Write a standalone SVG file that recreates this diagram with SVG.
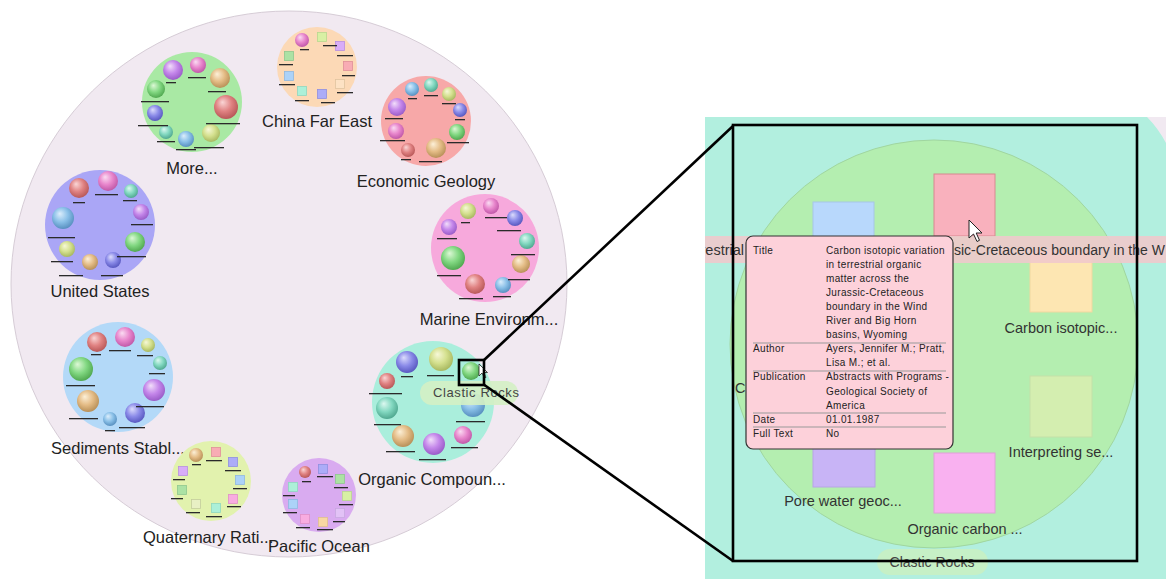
<svg xmlns="http://www.w3.org/2000/svg" width="1169" height="579" viewBox="0 0 1169 579">
<style>
text{font-family:"Liberation Sans",Arial,sans-serif}
.lbl{font-size:16.5px;fill:#222;text-anchor:middle}
.pl{font-size:14.5px;fill:#333;text-anchor:middle}
.tt{font-size:10px;fill:#222;letter-spacing:0.35px}
.d{fill:#2a2a2a;height:1.3px}
.sq{stroke-width:0.8}
.sep{stroke:#999;stroke-width:1}
.con{stroke:#000;stroke-width:2.6;fill:none}
</style>
<defs>
<radialGradient id="gP" cx="0.45" cy="0.4" r="0.6" fx="0.35" fy="0.3"><stop offset="0" stop-color="#f2defa"/><stop offset="0.55" stop-color="#c486ea"/><stop offset="1" stop-color="#9a5cc8"/></radialGradient>
<radialGradient id="gK" cx="0.45" cy="0.4" r="0.6" fx="0.35" fy="0.3"><stop offset="0" stop-color="#fadcf2"/><stop offset="0.55" stop-color="#e886cc"/><stop offset="1" stop-color="#c058a8"/></radialGradient>
<radialGradient id="gT" cx="0.45" cy="0.4" r="0.6" fx="0.35" fy="0.3"><stop offset="0" stop-color="#fcf0d8"/><stop offset="0.55" stop-color="#e4bc86"/><stop offset="1" stop-color="#b89058"/></radialGradient>
<radialGradient id="gR" cx="0.45" cy="0.4" r="0.6" fx="0.35" fy="0.3"><stop offset="0" stop-color="#fad6d6"/><stop offset="0.55" stop-color="#e08282"/><stop offset="1" stop-color="#b85858"/></radialGradient>
<radialGradient id="gG" cx="0.45" cy="0.4" r="0.6" fx="0.35" fy="0.3"><stop offset="0" stop-color="#ddf8d6"/><stop offset="0.55" stop-color="#82d882"/><stop offset="1" stop-color="#50a850"/></radialGradient>
<radialGradient id="gL" cx="0.45" cy="0.4" r="0.6" fx="0.35" fy="0.3"><stop offset="0" stop-color="#f6f8d8"/><stop offset="0.55" stop-color="#d4e08e"/><stop offset="1" stop-color="#a8b860"/></radialGradient>
<radialGradient id="gC" cx="0.45" cy="0.4" r="0.6" fx="0.35" fy="0.3"><stop offset="0" stop-color="#dcf8f0"/><stop offset="0.55" stop-color="#82d8c0"/><stop offset="1" stop-color="#50a890"/></radialGradient>
<radialGradient id="gB" cx="0.45" cy="0.4" r="0.6" fx="0.35" fy="0.3"><stop offset="0" stop-color="#dceefc"/><stop offset="0.55" stop-color="#8ac0e8"/><stop offset="1" stop-color="#5890c0"/></radialGradient>
<radialGradient id="gI" cx="0.45" cy="0.4" r="0.6" fx="0.35" fy="0.3"><stop offset="0" stop-color="#dcdcfc"/><stop offset="0.55" stop-color="#8a8ae8"/><stop offset="1" stop-color="#5858c0"/></radialGradient>
<clipPath id="panel"><rect x="705" y="117" width="461" height="462"/></clipPath>
</defs>
<rect width="1169" height="579" fill="#fff"/>

<g id="root">
<ellipse cx="289" cy="284" rx="278" ry="273" fill="#f1e9f1" stroke="#d6ccd6" stroke-width="1"/>
</g>

<g id="more">
<circle cx="192" cy="102" r="50" fill="#a9e9a4"/>
<circle cx="173" cy="70" r="10" fill="url(#gP)"/><circle cx="198" cy="65" r="8" fill="url(#gK)"/><circle cx="220" cy="78" r="10" fill="url(#gT)"/>
<circle cx="156" cy="89" r="9" fill="url(#gG)"/><circle cx="226" cy="107" r="12" fill="url(#gR)"/><circle cx="155" cy="113" r="8" fill="url(#gI)"/>
<circle cx="211" cy="133" r="9" fill="url(#gL)"/><circle cx="166" cy="132" r="7" fill="url(#gC)"/><circle cx="186" cy="139" r="8" fill="url(#gB)"/>
<rect class="d" x="166" y="82" width="10" height="1.6"/><rect class="d" x="188" y="77" width="18" height="1.6"/><rect class="d" x="208" y="91" width="18" height="1.6"/>
<rect class="d" x="141" y="101" width="28" height="1.6"/><rect class="d" x="206" y="123" width="34" height="2.2"/><rect class="d" x="138" y="125" width="30" height="1.6"/>
<rect class="d" x="194" y="147" width="30" height="1.6"/><rect class="d" x="157" y="141" width="18" height="1.2"/><rect class="d" x="176" y="149" width="20" height="1.2"/>
<text class="lbl" x="192" y="174">More...</text>
</g>

<g id="china">
<circle cx="317" cy="67" r="40" fill="#fcd9b6"/>
<circle cx="302" cy="40" r="7" fill="url(#gK)"/>
<rect class="sq" x="317.5" y="32.5" width="9" height="9" fill="#d8f0a4" stroke="#b8d890"/>
<rect class="sq" x="335.5" y="41.5" width="9" height="9" fill="#d8acf8" stroke="#b890e0"/>
<rect class="sq" x="343.5" y="61.5" width="9" height="9" fill="#f8acb4" stroke="#e09098"/>
<rect class="sq" x="335.5" y="79.5" width="9" height="9" fill="#fde2c4" stroke="#e0c4a0"/>
<rect class="sq" x="317.5" y="89.5" width="9" height="9" fill="#acacf8" stroke="#9090e0"/>
<rect class="sq" x="297.5" y="86.5" width="9" height="9" fill="#acf0d8" stroke="#90d8c0"/>
<rect class="sq" x="284.5" y="71.5" width="9" height="9" fill="#acd2f8" stroke="#90b8e0"/>
<rect class="sq" x="284.5" y="51.5" width="9" height="9" fill="#ace2a4" stroke="#90c890"/>
<rect class="d" x="300" y="49" width="9" height="1.2"/><rect class="d" x="323" y="45" width="14" height="1.2"/><rect class="d" x="337" y="55" width="16" height="1.2"/>
<rect class="d" x="342" y="75" width="13" height="1.2"/><rect class="d" x="337" y="92" width="16" height="1.2"/><rect class="d" x="321" y="102" width="14" height="1.2"/>
<rect class="d" x="295" y="100" width="14" height="1.2"/><rect class="d" x="279" y="84" width="16" height="1.2"/><rect class="d" x="279" y="64" width="14" height="1.2"/>
<text class="lbl" x="317" y="127">China Far East</text>
</g>

<g id="economic">
<circle cx="426" cy="121" r="45" fill="#f7a8a8"/>
<circle cx="412" cy="89" r="7" fill="url(#gB)"/><circle cx="431" cy="85" r="7" fill="url(#gC)"/><circle cx="449" cy="94" r="7" fill="url(#gL)"/>
<circle cx="460" cy="110" r="7" fill="url(#gI)"/><circle cx="397" cy="107" r="9" fill="url(#gP)"/><circle cx="457" cy="132" r="8" fill="url(#gG)"/>
<circle cx="396" cy="131" r="8" fill="url(#gK)"/><circle cx="436" cy="148" r="10" fill="url(#gT)"/><circle cx="408" cy="150" r="7" fill="url(#gR)"/>
<rect class="d" x="408" y="98" width="9" height="1.4"/><rect class="d" x="424" y="95" width="14" height="1.6"/><rect class="d" x="442" y="103" width="14" height="1.2"/>
<rect class="d" x="455" y="119" width="10" height="1.6"/><rect class="d" x="385" y="118" width="18" height="1.8"/><rect class="d" x="447" y="142" width="22" height="1.8"/>
<rect class="d" x="380" y="140" width="25" height="1.8"/><rect class="d" x="419" y="161" width="23" height="1.6"/><rect class="d" x="401" y="159" width="10" height="1.2"/>
<text class="lbl" x="426" y="187">Economic Geology</text>
</g>

<g id="us">
<circle cx="100" cy="225" r="55" fill="#aaa6f6"/>
<circle cx="79" cy="188" r="10" fill="url(#gR)"/><circle cx="108" cy="181" r="10" fill="url(#gK)"/><circle cx="131" cy="191" r="7" fill="url(#gC)"/>
<circle cx="141" cy="212" r="8" fill="url(#gP)"/><circle cx="63" cy="218" r="11" fill="url(#gB)"/><circle cx="135" cy="242" r="10" fill="url(#gG)"/>
<circle cx="67" cy="249" r="8" fill="url(#gL)"/><circle cx="90" cy="262" r="8" fill="url(#gT)"/><circle cx="113" cy="260" r="8" fill="url(#gI)"/>
<rect class="d" x="73" y="202" width="12" height="1.8"/><rect class="d" x="95" y="194" width="23" height="1.4"/><rect class="d" x="123" y="200" width="14" height="1.2"/>
<rect class="d" x="131" y="224" width="22" height="1.6"/><rect class="d" x="48" y="237" width="27" height="2"/><rect class="d" x="117" y="256" width="29" height="1.8"/>
<rect class="d" x="51" y="261" width="22" height="1.4"/><rect class="d" x="59" y="275" width="24" height="1.4"/><rect class="d" x="101" y="275" width="22" height="1.4"/>
<text class="lbl" x="100" y="297">United States</text>
</g>

<g id="marine">
<circle cx="485" cy="248" r="54" fill="#f7a9dc"/>
<circle cx="468" cy="211" r="8" fill="url(#gL)"/><circle cx="491" cy="206" r="8" fill="url(#gK)"/><circle cx="515" cy="218" r="8" fill="url(#gI)"/>
<circle cx="449" cy="227" r="8" fill="url(#gP)"/><circle cx="527" cy="241" r="8" fill="url(#gC)"/><circle cx="453" cy="258" r="12" fill="url(#gG)"/>
<circle cx="521" cy="264" r="9" fill="url(#gT)"/><circle cx="475" cy="284" r="10" fill="url(#gR)"/><circle cx="503" cy="285" r="8" fill="url(#gB)"/>
<rect class="d" x="461" y="222" width="9" height="1.4"/><rect class="d" x="485" y="217" width="22" height="1.4"/><rect class="d" x="497" y="230" width="24" height="1.4"/>
<rect class="d" x="437" y="238" width="20" height="1.8"/><rect class="d" x="511" y="254" width="24" height="1.4"/><rect class="d" x="437" y="275" width="24" height="1.8"/>
<rect class="d" x="508" y="279" width="22" height="1.4"/><rect class="d" x="459" y="298" width="24" height="1.6"/><rect class="d" x="493" y="296" width="18" height="1.4"/>
<text class="lbl" x="489" y="325">Marine Environm...</text>
</g>

<g id="sediments">
<circle cx="118" cy="377" r="55" fill="#b3d9f8"/>
<circle cx="97" cy="342" r="10" fill="url(#gR)"/><circle cx="125" cy="337" r="10" fill="url(#gK)"/><circle cx="148" cy="345" r="7" fill="url(#gL)"/>
<circle cx="160" cy="363" r="7" fill="url(#gC)"/><circle cx="81" cy="369" r="12" fill="url(#gG)"/><circle cx="154" cy="390" r="11" fill="url(#gP)"/>
<circle cx="88" cy="401" r="11" fill="url(#gT)"/><circle cx="135" cy="413" r="10" fill="url(#gI)"/><circle cx="110" cy="419" r="7" fill="url(#gB)"/>
<rect class="d" x="91" y="354" width="10" height="1.6"/><rect class="d" x="109" y="350" width="22" height="1.6"/><rect class="d" x="137" y="355" width="16" height="1.2"/>
<rect class="d" x="149" y="373" width="16" height="1.2"/><rect class="d" x="66" y="385" width="29" height="2"/><rect class="d" x="136" y="406" width="28" height="1.8"/>
<rect class="d" x="69" y="418" width="29" height="2"/><rect class="d" x="119" y="427" width="26" height="1.4"/><rect class="d" x="105" y="430" width="10" height="1.2"/>
<text class="lbl" x="118" y="454">Sediments Stabl...</text>
</g>

<g id="organic">
<circle cx="433" cy="402" r="61" fill="#aaeedc"/>
<circle cx="407" cy="362" r="11" fill="url(#gI)"/><circle cx="441" cy="359" r="12" fill="url(#gL)"/><circle cx="471" cy="371" r="9" fill="url(#gG)"/>
<circle cx="387" cy="381" r="8" fill="url(#gR)"/><circle cx="387" cy="408" r="11" fill="url(#gC)"/><circle cx="473" cy="405" r="12" fill="url(#gB)"/>
<circle cx="403" cy="436" r="11" fill="url(#gT)"/><circle cx="434" cy="444" r="11" fill="url(#gP)"/><circle cx="463" cy="435" r="9" fill="url(#gK)"/>
<rect class="d" x="401" y="376" width="12" height="1.6"/><rect class="d" x="427" y="375" width="27" height="1.8"/><rect class="d" x="369" y="393" width="33" height="1.4"/>
<rect class="d" x="374" y="424" width="27" height="1.8"/><rect class="d" x="456" y="421" width="29" height="1.8"/><rect class="d" x="386" y="451" width="29" height="2"/>
<rect class="d" x="419" y="459" width="27" height="1.6"/><rect class="d" x="451" y="447" width="27" height="1.6"/>
<rect x="420" y="381" width="98" height="24" rx="12" fill="#d4efc4" fill-opacity="0.9"/>
<text x="433" y="397" style="font-size:13px;fill:#444;letter-spacing:0.6px">Clastic Rocks</text>
<text class="lbl" x="432" y="485">Organic Compoun...</text>
</g>

<g id="quaternary">
<circle cx="211" cy="481" r="40" fill="#e2f2ae"/>
<circle cx="196" cy="455" r="7" fill="url(#gT)"/>
<rect class="sq" x="211.5" y="447.5" width="9" height="9" fill="#f8acb4" stroke="#e09098"/>
<rect class="sq" x="228.5" y="457.5" width="9" height="9" fill="#acacf8" stroke="#9090e0"/>
<rect class="sq" x="235.5" y="475.5" width="9" height="9" fill="#acd2f8" stroke="#90b8e0"/>
<rect class="sq" x="228.5" y="494.5" width="9" height="9" fill="#f8ace0" stroke="#e090c8"/>
<rect class="sq" x="211.5" y="503.5" width="9" height="9" fill="#acf0d8" stroke="#90d8c0"/>
<rect class="sq" x="191.5" y="499.5" width="9" height="9" fill="#e8f0c4" stroke="#c4cc9c"/>
<rect class="sq" x="177.5" y="485.5" width="9" height="9" fill="#ace2a4" stroke="#90c890"/>
<rect class="sq" x="178.5" y="466.5" width="9" height="9" fill="#d8acf8" stroke="#b890e0"/>
<rect class="d" x="192" y="464" width="9" height="1.2"/><rect class="d" x="206" y="460" width="16" height="1.2"/><rect class="d" x="225" y="470" width="16" height="1.2"/>
<rect class="d" x="233" y="488" width="14" height="1.2"/><rect class="d" x="227" y="506" width="14" height="1.2"/><rect class="d" x="206" y="516" width="16" height="1.2"/>
<rect class="d" x="186" y="512" width="14" height="1.2"/><rect class="d" x="171" y="498" width="12" height="1.2"/><rect class="d" x="173" y="479" width="12" height="1.2"/>
<text class="lbl" x="143" y="543" style="text-anchor:start">Quaternary Rati...</text>
</g>

<g id="pacific">
<circle cx="319" cy="495" r="37" fill="#d9abf0"/>
<circle cx="305" cy="472" r="6" fill="url(#gR)"/>
<rect class="sq" x="318.5" y="464.5" width="9" height="9" fill="#acacf8" stroke="#9090e0"/>
<rect class="sq" x="335.5" y="474.5" width="9" height="9" fill="#ace2a4" stroke="#90c890"/>
<rect class="sq" x="342.5" y="491.5" width="9" height="9" fill="#d8f0a4" stroke="#b8d890"/>
<rect class="sq" x="335.5" y="508.5" width="9" height="9" fill="#e2c2f6" stroke="#c8a8e0"/>
<rect class="sq" x="318.5" y="517.5" width="9" height="9" fill="#f8d8a4" stroke="#e0c090"/>
<rect class="sq" x="300.5" y="514.5" width="9" height="9" fill="#f8ace0" stroke="#e090c8"/>
<rect class="sq" x="288.5" y="499.5" width="9" height="9" fill="#acd2f8" stroke="#90b8e0"/>
<rect class="sq" x="288.5" y="482.5" width="9" height="9" fill="#acf0d8" stroke="#90d8c0"/>
<rect class="d" x="302" y="481" width="9" height="1.2"/><rect class="d" x="317" y="476" width="16" height="1.2"/><rect class="d" x="334" y="487" width="14" height="1.2"/>
<rect class="d" x="339" y="504" width="14" height="1.2"/><rect class="d" x="333" y="521" width="12" height="1.6"/><rect class="d" x="317" y="529" width="16" height="1.2"/>
<rect class="d" x="296" y="527" width="14" height="1.2"/><rect class="d" x="283" y="512" width="14" height="1.2"/><rect class="d" x="283" y="495" width="12" height="1.2"/>
<text class="lbl" x="319" y="552">Pacific Ocean</text>
</g>

<g id="cursor-left">
<polygon points="479,364 479,376 482,373 484.5,378 486,377.3 483.7,372.5 487.5,372.5" fill="#fff" stroke="#222" stroke-width="0.8"/>
</g>

<g id="zoom-panel">
<rect x="705" y="117" width="461" height="462" fill="#b2efdf"/>
<path d="M1147,117 Q1158,128 1166,143 L1166,117 Z" fill="#f1e9f1"/>
<circle cx="934" cy="344" r="204" fill="#b4eeb0" stroke="#a0d6a0" stroke-width="1"/>
<rect x="813" y="202" width="61" height="61" fill="#b8d8fc" stroke="#a6c6e6"/>
<rect x="934" y="174" width="61" height="62" fill="#f9b1bd" stroke="#d88890"/>
<rect x="1030" y="251" width="62" height="61" fill="#fde6b2" stroke="#f0d8a0"/>
<rect x="1030" y="376" width="62" height="61" fill="#d4eeb0" stroke="#c4e0a8"/>
<rect x="934" y="453" width="61" height="60" fill="#f9b1f0" stroke="#e0a0d8"/>
<rect x="813" y="426" width="62" height="61" fill="#c8b4f6" stroke="#b8a4e6"/>
<text class="pl" x="1061" y="333">Carbon isotopic...</text>
<text class="pl" x="1061" y="457">Interpreting se...</text>
<text class="pl" x="965" y="534">Organic carbon ...</text>
<text class="pl" x="843" y="506">Pore water geoc...</text>
<text class="pl" x="735" y="393" style="text-anchor:start">C</text>
<rect x="705" y="236" width="461" height="27" fill="#f0c8cc" fill-opacity="0.88"/>
<g clip-path="url(#panel)">
<text class="pl" x="744" y="255" style="text-anchor:end">restrial</text>
<text class="pl" x="954" y="255" style="text-anchor:start;font-size:14px">sic-Cretaceous boundary in the W</text>
</g>
<rect x="877" y="549" width="111" height="26" rx="13" fill="#c6f0c6"/>
<text class="pl" x="932" y="567" style="font-size:14px;fill:#444">Clastic Rocks</text>
</g>

<g id="tooltip">
<rect x="746" y="236" width="207" height="213" rx="7" fill="#fdd1da" stroke="#333" stroke-width="1.2"/>
<text class="tt" x="753" y="254">Title</text>
<text class="tt" x="826" y="254">Carbon isotopic variation</text>
<text class="tt" x="826" y="268">in terrestrial organic</text>
<text class="tt" x="826" y="282">matter across the</text>
<text class="tt" x="826" y="296">Jurassic-Cretaceous</text>
<text class="tt" x="826" y="310">boundary in the Wind</text>
<text class="tt" x="826" y="324">River and Big Horn</text>
<text class="tt" x="826" y="338">basins, Wyoming</text>
<line class="sep" x1="753" y1="343" x2="946" y2="343"/>
<text class="tt" x="753" y="352">Author</text>
<text class="tt" x="826" y="352">Ayers, Jennifer M.; Pratt,</text>
<text class="tt" x="826" y="366">Lisa M.;  et al.</text>
<line class="sep" x1="753" y1="371" x2="946" y2="371"/>
<text class="tt" x="753" y="380">Publication</text>
<text class="tt" x="826" y="380">Abstracts with Programs -</text>
<text class="tt" x="826" y="395">Geological Society of</text>
<text class="tt" x="826" y="409">America</text>
<line class="sep" x1="753" y1="413" x2="946" y2="413"/>
<text class="tt" x="753" y="423">Date</text>
<text class="tt" x="826" y="423">01.01.1987</text>
<line class="sep" x1="753" y1="427" x2="946" y2="427"/>
<text class="tt" x="753" y="437">Full Text</text>
<text class="tt" x="826" y="437">No</text>
</g>

<g id="cursor-right">
<polygon points="969,220 969,238 973.5,234 977,241.5 979.5,240.3 976.2,233 982,233" fill="#fff" stroke="#222" stroke-width="1"/>
</g>

<g id="connectors">
<rect class="con" x="459" y="360" width="25" height="25"/>
<line class="con" x1="483" y1="361" x2="733" y2="126"/>
<line class="con" x1="483" y1="384" x2="733" y2="561"/>
<rect class="con" x="733" y="125" width="404" height="436" stroke-width="3"/>
</g>
</svg>
